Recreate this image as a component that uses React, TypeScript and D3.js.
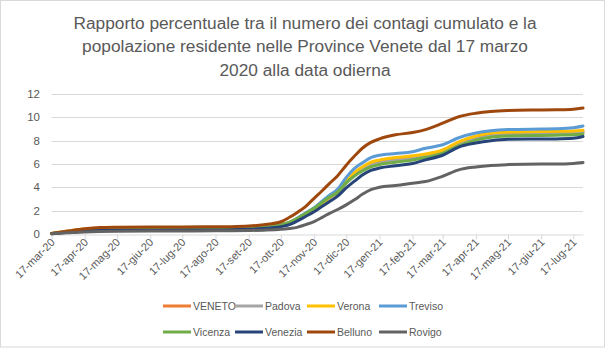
import React, { useRef, useEffect } from 'react';
import * as d3 from 'd3';

const W = 608, H = 350;
const FONT = "'Liberation Sans', Arial, sans-serif";

const titleLines = [
  'Rapporto percentuale tra il numero dei contagi cumulato e la',
  'popolazione residente nelle Province Venete dal 17 marzo',
  '2020 alla data odierna',
];

const dates = [
  '2020-03-17', '2020-04-01', '2020-04-17', '2020-05-01', '2020-05-17', '2020-06-17',
  '2020-07-17', '2020-08-17', '2020-09-01', '2020-09-17', '2020-10-01', '2020-10-17',
  '2020-10-25', '2020-11-01', '2020-11-09', '2020-11-17', '2020-11-25', '2020-12-01',
  '2020-12-09', '2020-12-17', '2020-12-25', '2021-01-01', '2021-01-09', '2021-01-17',
  '2021-02-01', '2021-02-17', '2021-03-01', '2021-03-17', '2021-04-01', '2021-04-17',
  '2021-05-01', '2021-05-17', '2021-06-17', '2021-07-01', '2021-07-17', '2021-07-26',
];

const veneto = [0.04, 0.2, 0.35, 0.4, 0.42, 0.43, 0.44, 0.46, 0.47, 0.5, 0.57, 0.75, 0.95, 1.25, 1.65, 2.1, 2.6, 3.0, 3.55, 4.45, 5.15, 5.6, 6.0, 6.2, 6.4, 6.55, 6.75, 7.1, 7.75, 8.25, 8.5, 8.6, 8.65, 8.68, 8.72, 8.78];
const padova = [0.04, 0.2, 0.35, 0.4, 0.42, 0.43, 0.44, 0.45, 0.46, 0.49, 0.55, 0.72, 0.92, 1.2, 1.6, 2.05, 2.55, 2.95, 3.5, 4.35, 5.05, 5.5, 5.9, 6.1, 6.3, 6.45, 6.65, 7.0, 7.65, 8.15, 8.4, 8.5, 8.55, 8.58, 8.62, 8.7];
const verona = [0.05, 0.25, 0.42, 0.5, 0.52, 0.53, 0.54, 0.56, 0.57, 0.6, 0.66, 0.82, 1.0, 1.3, 1.7, 2.15, 2.7, 3.1, 3.65, 4.55, 5.3, 5.75, 6.15, 6.35, 6.55, 6.7, 6.85, 7.2, 7.9, 8.4, 8.65, 8.75, 8.78, 8.8, 8.83, 8.9];
const treviso = [0.05, 0.22, 0.38, 0.45, 0.47, 0.48, 0.49, 0.5, 0.52, 0.55, 0.62, 0.8, 1.0, 1.35, 1.8, 2.25, 2.85, 3.3, 3.85, 4.85, 5.65, 6.1, 6.55, 6.75, 6.9, 7.05, 7.35, 7.65, 8.25, 8.65, 8.85, 8.95, 9.0, 9.02, 9.1, 9.25];
const vicenza = [0.04, 0.18, 0.3, 0.35, 0.37, 0.38, 0.39, 0.41, 0.42, 0.46, 0.55, 0.78, 1.0, 1.32, 1.75, 2.2, 2.75, 3.15, 3.6, 4.4, 5.0, 5.4, 5.75, 5.95, 6.15, 6.35, 6.55, 6.9, 7.55, 8.05, 8.3, 8.4, 8.45, 8.47, 8.5, 8.55];
const venezia = [0.03, 0.15, 0.25, 0.3, 0.32, 0.33, 0.34, 0.35, 0.36, 0.4, 0.47, 0.63, 0.8, 1.1, 1.5, 1.9, 2.4, 2.75, 3.25, 3.95, 4.55, 5.05, 5.45, 5.65, 5.85, 6.05, 6.35, 6.75, 7.45, 7.8, 8.0, 8.12, 8.14, 8.15, 8.2, 8.35];
const belluno = [0.05, 0.25, 0.45, 0.55, 0.58, 0.6, 0.6, 0.62, 0.63, 0.68, 0.8, 1.05, 1.43, 1.83, 2.35, 3.06, 3.75, 4.3, 5.0, 5.9, 6.7, 7.35, 7.85, 8.15, 8.5, 8.7, 8.95, 9.5, 10.05, 10.35, 10.5, 10.58, 10.63, 10.65, 10.7, 10.8];
const rovigo = [0.02, 0.1, 0.18, 0.22, 0.24, 0.25, 0.26, 0.27, 0.28, 0.3, 0.33, 0.4, 0.48, 0.57, 0.8, 1.07, 1.45, 1.75, 2.1, 2.5, 2.95, 3.4, 3.8, 4.0, 4.15, 4.35, 4.5, 4.95, 5.5, 5.75, 5.88, 5.95, 6.0, 6.0, 6.05, 6.12];

const seriesNames = ['VENETO', 'Padova', 'Verona', 'Treviso', 'Vicenza', 'Venezia', 'Belluno', 'Rovigo'];
const seriesValues = [veneto, padova, verona, treviso, vicenza, venezia, belluno, rovigo];
const COLORS = ['#ED7D31', '#A5A5A5', '#FFC000', '#5B9BD5', '#70AD47', '#264478', '#9E480E', '#636363'];

const tickDates = [
  '2020-03-17', '2020-04-17', '2020-05-17', '2020-06-17', '2020-07-17', '2020-08-17',
  '2020-09-17', '2020-10-17', '2020-11-17', '2020-12-17', '2021-01-17', '2021-02-17',
  '2021-03-17', '2021-04-17', '2021-05-17', '2021-06-17', '2021-07-17',
];
const monthAbbr = ['gen', 'feb', 'mar', 'apr', 'mag', 'giu', 'lug', 'ago', 'set', 'ott', 'nov', 'dic'];
const yTicks = [0, 2, 4, 6, 8, 10, 12];

const parse = d3.utcParse('%Y-%m-%d');
const fmt = (d: Date) => `${d.getUTCDate()}-${monthAbbr[d.getUTCMonth()]}-${String(d.getUTCFullYear()).slice(2)}`;

const App: React.FC = () => {
  const svgRef = useRef<SVGSVGElement | null>(null);

  useEffect(() => {
    if (!svgRef.current) return;
    const svg = d3.select(svgRef.current);
    svg.selectAll('*').remove();

    const margin = { top: 94, right: 25, bottom: 116, left: 51.6 };
    const x = d3.scaleUtc()
      .domain([parse('2020-03-17')!, parse('2021-07-26')!])
      .range([margin.left, W - margin.right]);
    const y = d3.scaleLinear().domain([0, 12]).range([H - margin.bottom, margin.top]);

    svg.append('rect')
      .attr('x', 0.5).attr('y', 0.5).attr('width', W - 4).attr('height', H - 3.5)
      .attr('fill', '#fff').attr('stroke', '#D9D9D9');

    // title
    svg.append('g').selectAll('text').data(titleLines).join('text')
      .attr('x', 305).attr('y', (_, i) => 29 + i * 23.3)
      .attr('text-anchor', 'middle')
      .attr('font-family', FONT).attr('font-size', 17.3).attr('fill', '#595959')
      .text(d => d);

    // gridlines
    svg.append('g').selectAll('line').data(yTicks.filter(t => t > 0)).join('line')
      .attr('x1', margin.left).attr('x2', W - margin.right)
      .attr('y1', d => Math.round(y(d)) + 0.5).attr('y2', d => Math.round(y(d)) + 0.5)
      .attr('stroke', '#D9D9D9');

    // y labels
    svg.append('g').selectAll('text').data(yTicks).join('text')
      .attr('x', 40).attr('y', d => y(d) + 4)
      .attr('text-anchor', 'end')
      .attr('font-family', FONT).attr('font-size', 11.5).attr('fill', '#595959')
      .text(d => d);

    // x axis
    const xa = svg.append('g').attr('transform', `translate(0,${Math.round(y(0)) + 0.5})`)
      .call(d3.axisBottom(x).tickValues(tickDates.map(d => parse(d)!)).tickSize(5).tickSizeOuter(0).tickFormat(() => ''));
    xa.select('.domain').attr('stroke', '#D9D9D9');
    xa.selectAll('.tick line').attr('stroke', '#D9D9D9');

    svg.append('g').selectAll('text').data(tickDates).join('text')
      .attr('transform', d => `translate(${x(parse(d)!) + 4},${y(0) + 9}) rotate(-45)`)
      .attr('text-anchor', 'end')
      .attr('font-family', FONT).attr('font-size', 11).attr('fill', '#595959')
      .text(d => fmt(parse(d)!));

    // lines
    const line = d3.line<number>()
      .x((_, i) => x(parse(dates[i])!))
      .y(d => y(d))
      .curve(d3.curveMonotoneX);

    svg.append('g').selectAll('path').data(seriesValues).join('path')
      .attr('d', d => line(d))
      .attr('fill', 'none')
      .attr('stroke', (_, i) => COLORS[i])
      .attr('stroke-width', 3)
      .attr('stroke-linejoin', 'round')
      .attr('stroke-linecap', 'round');

    // legend
    const lg = svg.append('g').selectAll('g').data(seriesNames).join('g')
      .attr('transform', (_, i) => `translate(${163 + (i % 4) * 72},${i < 4 ? 306 : 332})`);
    lg.append('line').attr('x1', 0).attr('x2', 28).attr('y1', 0).attr('y2', 0)
      .attr('stroke', (_, i) => COLORS[i]).attr('stroke-width', 3);
    lg.append('text').attr('x', 30).attr('y', 4)
      .attr('font-family', FONT).attr('font-size', 10.5).attr('fill', '#595959')
      .text(d => d);
  }, []);

  return <svg ref={svgRef} width={W} height={H} style={{ position: 'absolute', left: 0, top: 0 }} />;
};

export default App;
